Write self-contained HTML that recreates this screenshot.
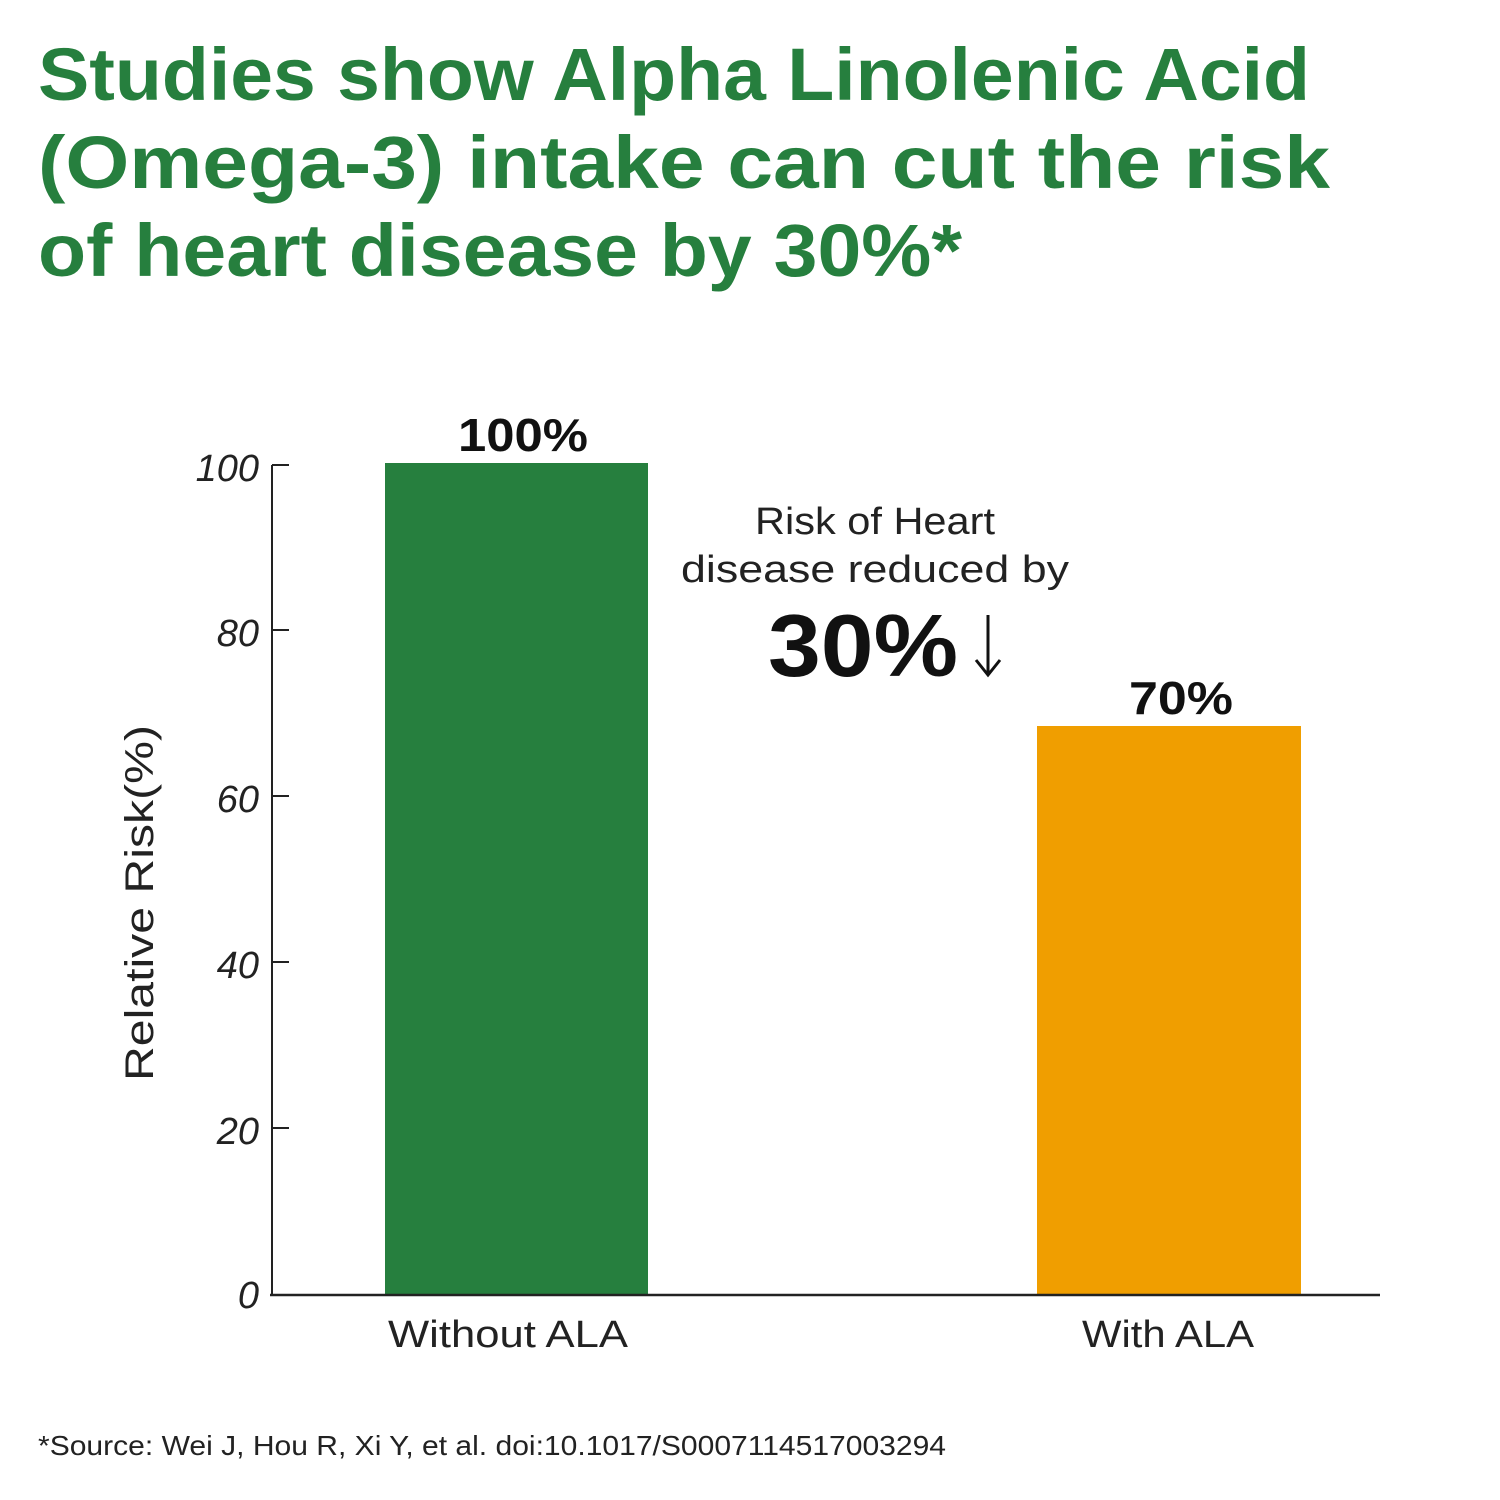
<!DOCTYPE html>
<html><head><meta charset="utf-8"><style>html,body{margin:0;padding:0;background:#fff}svg{display:block}</style></head>
<body>
<svg width="1500" height="1500" viewBox="0 0 1500 1500" xmlns="http://www.w3.org/2000/svg" font-family="Liberation Sans, sans-serif">
<rect width="1500" height="1500" fill="#fff"/>
<g fill="#267f3e" font-weight="bold" font-size="74">
<text x="38" y="100" textLength="1272" lengthAdjust="spacingAndGlyphs">Studies show Alpha Linolenic Acid</text>
<text x="38" y="188" textLength="1292" lengthAdjust="spacingAndGlyphs">(Omega-3) intake can cut the risk</text>
<text x="38" y="276" textLength="924" lengthAdjust="spacingAndGlyphs">of heart disease by 30%*</text>
</g>
<rect x="385" y="463" width="263" height="832" fill="#267f3e"/>
<rect x="1037" y="726" width="264" height="569" fill="#f09e00"/>
<g stroke="#222" stroke-width="2">
<line x1="272" y1="465" x2="272" y2="1295"/>
<line x1="270" y1="1295" x2="1380" y2="1295" stroke-width="2.5"/>
<line x1="272" y1="465" x2="289" y2="465"/>
<line x1="272" y1="630" x2="289" y2="630"/>
<line x1="272" y1="796" x2="289" y2="796"/>
<line x1="272" y1="962" x2="289" y2="962"/>
<line x1="272" y1="1128" x2="289" y2="1128"/>
</g>
<g font-size="38" font-style="italic" fill="#222" text-anchor="end">
<text x="259" y="481">100</text>
<text x="259" y="646">80</text>
<text x="259" y="812">60</text>
<text x="259" y="978">40</text>
<text x="259" y="1144">20</text>
<text x="259" y="1308">0</text>
</g>
<text transform="translate(153,903) rotate(-90)" text-anchor="middle" font-size="40" fill="#222" textLength="356" lengthAdjust="spacingAndGlyphs">Relative Risk(%)</text>
<g font-size="46" font-weight="bold" fill="#111" text-anchor="middle">
<text x="523" y="451" textLength="130" lengthAdjust="spacingAndGlyphs">100%</text>
<text x="1181" y="714" textLength="104" lengthAdjust="spacingAndGlyphs">70%</text>
</g>
<g font-size="38" fill="#222" text-anchor="middle">
<text x="508" y="1347" textLength="240" lengthAdjust="spacingAndGlyphs">Without ALA</text>
<text x="1168" y="1347" textLength="172" lengthAdjust="spacingAndGlyphs">With ALA</text>
<text x="875" y="534" textLength="240" lengthAdjust="spacingAndGlyphs">Risk of Heart</text>
<text x="875" y="582" textLength="388" lengthAdjust="spacingAndGlyphs">disease reduced by</text>
</g>
<text x="768" y="676" font-size="88" font-weight="bold" fill="#111" textLength="190" lengthAdjust="spacingAndGlyphs">30%</text>
<g stroke="#111" stroke-width="3" fill="none">
<line x1="988" y1="615" x2="988" y2="674"/>
<polyline points="976,660 988,675 1000,660"/>
</g>
<text x="38" y="1455" font-size="28" fill="#222" textLength="908" lengthAdjust="spacingAndGlyphs">*Source: Wei J, Hou R, Xi Y, et al. doi:10.1017/S0007114517003294</text>
</svg>
</body></html>
